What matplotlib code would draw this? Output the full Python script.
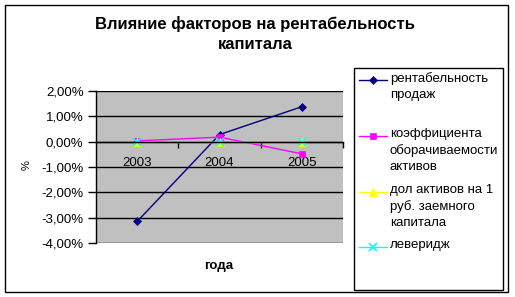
#!/usr/bin/env python3
"""Factor influence on return on capital, Excel-style line chart."""

import matplotlib

matplotlib.use("Agg")
import matplotlib.pyplot as plt
from matplotlib.lines import Line2D
from matplotlib.patches import Rectangle
from matplotlib.ticker import FuncFormatter

plt.rcParams["font.family"] = ["Liberation Sans", "DejaVu Sans"]

YEARS = ["2003", "2004", "2005"]
SALES_MARGIN = [-3.15, 0.28, 1.38]
ASSET_TURNOVER = [0.03, 0.18, -0.48]
ASSETS_PER_DEBT = [0.0, 0.0, 0.0]
LEVERAGE = [0.0, 0.0, 0.0]

SERIES = [
    ("рентабельность\nпродаж", SALES_MARGIN, "#000080", "D", 4.5),
    ("коэффициента\nоборачиваемости\nактивов", ASSET_TURNOVER, "#FF00FF", "s", 5),
    ("дол активов на 1\nруб. заемного\nкапитала", ASSETS_PER_DEBT, "#FFFF00", "^", 5.5),
    ("леверидж", LEVERAGE, "#00FFFF", "x", 5.5),
]

W, H = 515, 297
FS = 9.5


def fx(px):
    return px / W


def fy(py):
    return 1 - py / H


fig = plt.figure(figsize=(W / 100, H / 100), dpi=100)
fig.patch.set_facecolor("white")
fig.add_artist(Rectangle((fx(5), fy(292)), fx(503), (292 - 5) / H, transform=fig.transFigure,
                         fill=False, edgecolor="black", linewidth=1))

ax = fig.add_axes([fx(96), fy(243), fx(343 - 96), (243 - 91) / H])
ax.set_facecolor("#c0c0c0")
x = list(range(len(YEARS)))
for label, values, color, marker, size in SERIES:
    ax.plot(x, values, color=color, linewidth=1, marker=marker, markersize=size,
            markeredgewidth=1.2 if marker == "x" else 0.5, markeredgecolor=color, clip_on=False)

ax.set_xlim(-0.5, 2.5)
ax.set_ylim(-4, 2)
ax.set_yticks([-4, -3, -2, -1, 0, 1, 2])
ax.yaxis.set_major_formatter(FuncFormatter(lambda v, _: f"{v:.2f}%".replace(".", ",")))
ax.grid(axis="y", color="black", linewidth=1)
ax.set_axisbelow(True)
for side in ("top", "right"):
    ax.spines[side].set_visible(False)
ax.spines["left"].set_linewidth(1)
ax.spines["bottom"].set_position(("data", 0))
ax.spines["bottom"].set_linewidth(1)
ax.tick_params(axis="y", length=6, width=1, pad=3, labelsize=FS, direction="out")
ax.set_xticks([0.5, 1.5, 2.5])
ax.set_xticklabels([])
ax.tick_params(axis="x", which="major", length=4, width=1, direction="out")
ax.set_xticks(x, minor=True)
ax.set_xticklabels(YEARS, minor=True)
ax.tick_params(axis="x", which="minor", length=0, pad=11, labelsize=FS)

fig.text(fx(255), fy(34), "Влияние факторов на рентабельность\nкапитала", ha="center", va="center",
         fontsize=12, fontweight="bold", linespacing=1.4)
fig.text(fx(27), fy(165), "%", rotation=90, ha="center", va="center", fontsize=8)
fig.text(fx(219), fy(266), "года", ha="center", va="center", fontsize=FS, fontweight="bold")

# legend box drawn like Excel: entries evenly spaced, marker next to first line
fig.add_artist(Rectangle((fx(354), fy(290)), fx(503 - 354), (290 - 68) / H, transform=fig.transFigure,
                         fill=False, edgecolor="black", linewidth=1))
entry_y = [80, 136, 192, 247]
for (label, _, color, marker, size), py in zip(SERIES, entry_y):
    fig.add_artist(Line2D([fx(359), fx(387)], [fy(py), fy(py)], transform=fig.transFigure, color=color,
                          linewidth=1))
    fig.add_artist(Line2D([fx(373)], [fy(py)], transform=fig.transFigure, color=color, marker=marker,
                          markersize=size, markeredgecolor=color,
                          markeredgewidth=1.2 if marker == "x" else 0.5))
    fig.text(fx(390), fy(py - 8), label, ha="left", va="top", fontsize=FS, linespacing=1.4)

fig.savefig("out.png", dpi=100)
